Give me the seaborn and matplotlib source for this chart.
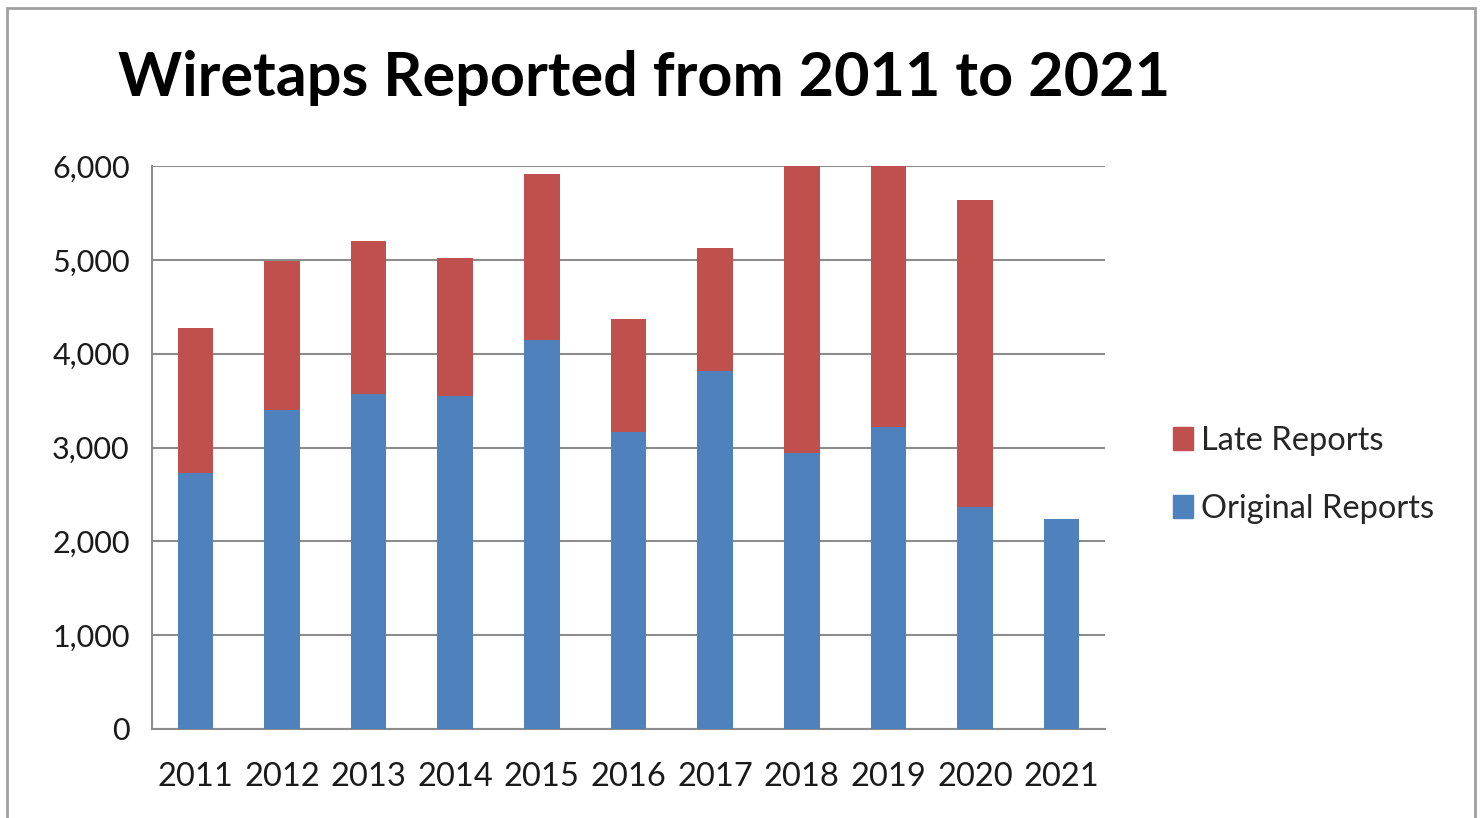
import pandas as pd
import seaborn as sns
import matplotlib.pyplot as plt
from matplotlib.patches import Patch, Rectangle

# data
years = ['2011', '2012', '2013', '2014', '2015', '2016', '2017', '2018', '2019', '2020', '2021']
original_reports = [2730, 3400, 3570, 3550, 4150, 3170, 3815, 2940, 3220, 2370, 2240]
late_reports = [1545, 1590, 1630, 1470, 1770, 1200, 1315, 3300, 3050, 3270, 0]

blue = '#4F81BD'
red = '#C0504D'
grey = '#8C8C8C'

sns.set_theme(style='white')
plt.rcParams['font.family'] = ['Lato', 'DejaVu Sans']

df = pd.DataFrame({'year': years, 'original': original_reports, 'late': late_reports})
df['total'] = df['original'] + df['late']

fig = plt.figure(figsize=(14.84, 8.18), dpi=100)
ax = fig.add_axes([152 / 1484, 1 - 729 / 818, 953 / 1484, 563 / 818])

# stacked bars: total (red) behind, original (blue) in front
sns.barplot(data=df, x='year', y='total', color=red, width=0.41, saturation=1,
            linewidth=0, ax=ax, zorder=3)
sns.barplot(data=df, x='year', y='original', color=blue, width=0.41, saturation=1,
            linewidth=0, ax=ax, zorder=4)

ax.set_xlim(-0.5, len(years) - 0.5)
ax.set_ylim(0, 6000)
ax.set_yticks(range(0, 6001, 1000))
ax.set_yticklabels([f'{v:,}' for v in range(0, 6001, 1000)], fontsize=22, color='#1a1a1a')
ax.set_xticks(range(len(years)))
ax.set_xticklabels(years, fontsize=23.5, color='#1a1a1a')
ax.set_xticks([i - 0.5 for i in range(len(years) + 1)], minor=True)
ax.tick_params(axis='x', which='major', length=0, pad=24)
ax.tick_params(axis='x', which='minor', length=9, width=1.5, color=grey, direction='out')
ax.tick_params(axis='y', length=10, width=1.5, color=grey, direction='out', pad=6)
ax.set_xlabel('')
ax.set_ylabel('')

ax.yaxis.grid(True, color=grey, linewidth=1.5, zorder=0)
ax.set_axisbelow(True)
for side in ['top', 'right']:
    ax.spines[side].set_visible(False)
for side in ['left', 'bottom']:
    ax.spines[side].set_color(grey)
    ax.spines[side].set_linewidth(1.5)

fig.text(118 / 1484, 1 - 78 / 818, 'Wiretaps Reported from 2011 to 2021',
         fontsize=44, fontweight='bold', color='black', va='center', ha='left')

handles = [Patch(color=red, label='Late Reports'), Patch(color=blue, label='Original Reports')]
fig.legend(handles=handles, loc='center left', bbox_to_anchor=(1160 / 1484, 1 - 475 / 818),
           frameon=False, fontsize=23.5, handlelength=0.6, handleheight=0.7,
           handletextpad=0.25, labelspacing=1.15, borderaxespad=0)

# outer frame of the chart area
fig.patches.append(Rectangle((7 / 1484, -0.05), 1468 / 1484, 1.05 - 8 / 818,
                             transform=fig.transFigure, fill=False,
                             edgecolor='#A0A0A0', linewidth=2))

plt.savefig('out.png', dpi=100)
